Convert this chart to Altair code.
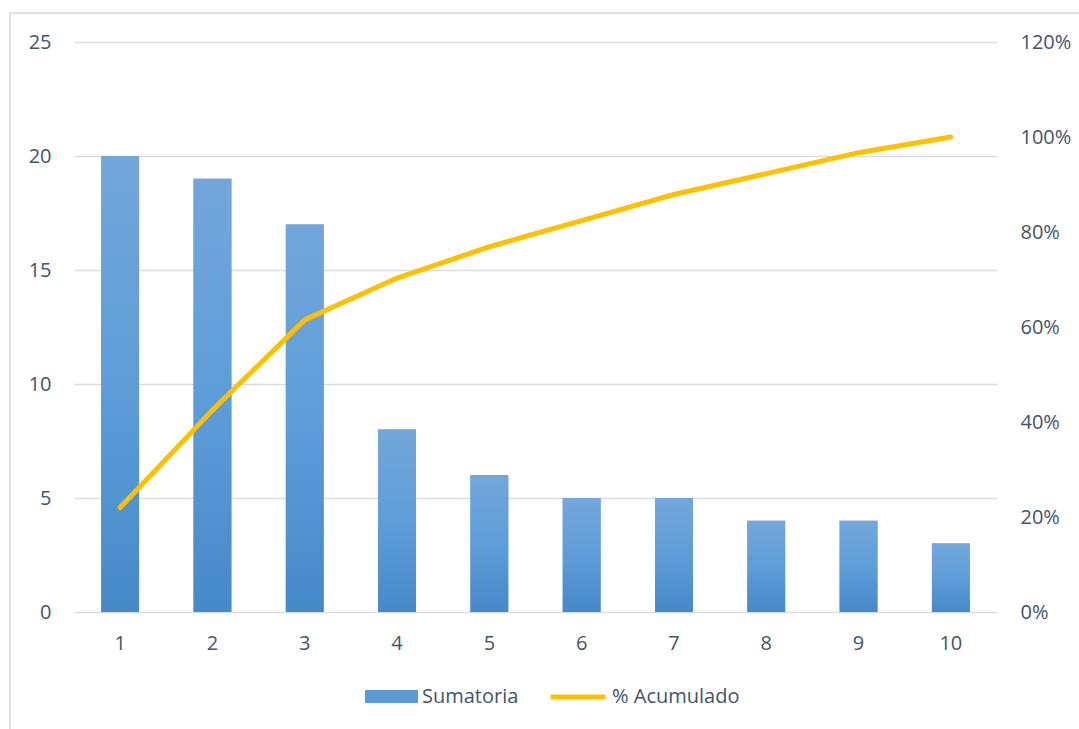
import altair as alt
import pandas as pd

categorias = [1, 2, 3, 4, 5, 6, 7, 8, 9, 10]
sumatoria = [20, 19, 17, 8, 6, 5, 5, 4, 4, 3]
acumulado = [0.22, 0.425, 0.615, 0.703, 0.769, 0.824, 0.879, 0.923, 0.967, 1.0]

df = pd.DataFrame({
    "cat": categorias,
    "sum": sumatoria,
    "acum": acumulado,
    "s1": ["Sumatoria"] * len(categorias),
    "s2": ["% Acumulado"] * len(categorias),
})

FONT = "Open Sans"
TXT = "#44546A"
GRID = "#D9DDE3"
FS = 20

x_enc = alt.X(
    "cat:O",
    scale=alt.Scale(paddingInner=0.59, paddingOuter=0.295),
    axis=alt.Axis(title=None, labelAngle=0, ticks=False, domain=False,
                  labelPadding=21, labelFontSize=FS, labelColor=TXT, labelFont=FONT),
)

grad = alt.LinearGradient(
    gradient="linear",
    stops=[alt.GradientStop(color="#73A7DB", offset=0),
           alt.GradientStop(color="#5E9DD8", offset=0.5),
           alt.GradientStop(color="#4689C9", offset=1)],
    x1=0, x2=0, y1=0, y2=1,
)

yscale_left = alt.Scale(domain=[0, 25], nice=False, zero=True)

bars_legend = alt.Chart(df).mark_bar().encode(
    x=x_enc,
    y=alt.Y("sum:Q", scale=yscale_left,
            axis=alt.Axis(title=None, values=[0, 5, 10, 15, 20, 25], ticks=False, domain=False,
                          grid=True, gridColor=GRID, gridWidth=1.5,
                          labelPadding=23, labelFontSize=FS, labelColor=TXT, labelFont=FONT)),
    color=alt.Color("s1:N", scale=alt.Scale(domain=["Sumatoria"], range=["#5B9BD5"]),
                    legend=alt.Legend(title=None, orient="none", legendX=291, legendY=628,
                                      symbolType="M-1,-0.245H1V0.245H-1Z", symbolSize=2809,
                                      symbolStrokeWidth=0, symbolOpacity=1,
                                      labelFontSize=FS, labelFont=FONT, labelColor=TXT,
                                      labelOffset=4, padding=0)),
)

bars_grad = alt.Chart(df).mark_bar(color=grad).encode(
    x=x_enc,
    y=alt.Y("sum:Q", scale=yscale_left),
)

frame_top = alt.Chart(df).mark_rule(color="#DDE2EA", strokeWidth=1.5).encode(
    x=alt.value(-64), x2=alt.value(1010), y=alt.value(-29)
)
frame_left = alt.Chart(df).mark_rule(color="#DDE2EA", strokeWidth=1.5).encode(
    x=alt.value(-64), y=alt.value(-29), y2=alt.value(700)
)

left = alt.layer(frame_top, frame_left, bars_legend, bars_grad)

line = alt.Chart(df).mark_line(strokeWidth=5, strokeCap="round", strokeJoin="round").encode(
    x=x_enc,
    y=alt.Y("acum:Q", scale=alt.Scale(domain=[0, 1.2], nice=False),
            axis=alt.Axis(title=None, orient="right", values=[0, 0.2, 0.4, 0.6, 0.8, 1.0, 1.2],
                          format=".0%", ticks=False, domain=False, grid=False,
                          labelPadding=23, labelFontSize=FS, labelColor=TXT, labelFont=FONT)),
    stroke=alt.Stroke("s2:N", scale=alt.Scale(domain=["% Acumulado"], range=["#FFC000"]),
                      legend=alt.Legend(title=None, orient="none", legendX=474, legendY=625,
                                        symbolType="stroke", symbolSize=3025, symbolStrokeWidth=5,
                                        labelFontSize=FS, labelFont=FONT, labelColor=TXT,
                                        labelOffset=4, padding=0)),
)

chart = alt.layer(left, line).resolve_scale(
    y="independent", color="independent", stroke="independent"
).properties(
    width=923, height=570,
    background="white",
    autosize=alt.AutoSizeParams(type="none"),
    padding={"left": 74, "top": 42, "right": 82, "bottom": 117},
).configure_view(stroke=None)

chart.save("out.html", embed_options={"renderer": "svg", "actions": False})
